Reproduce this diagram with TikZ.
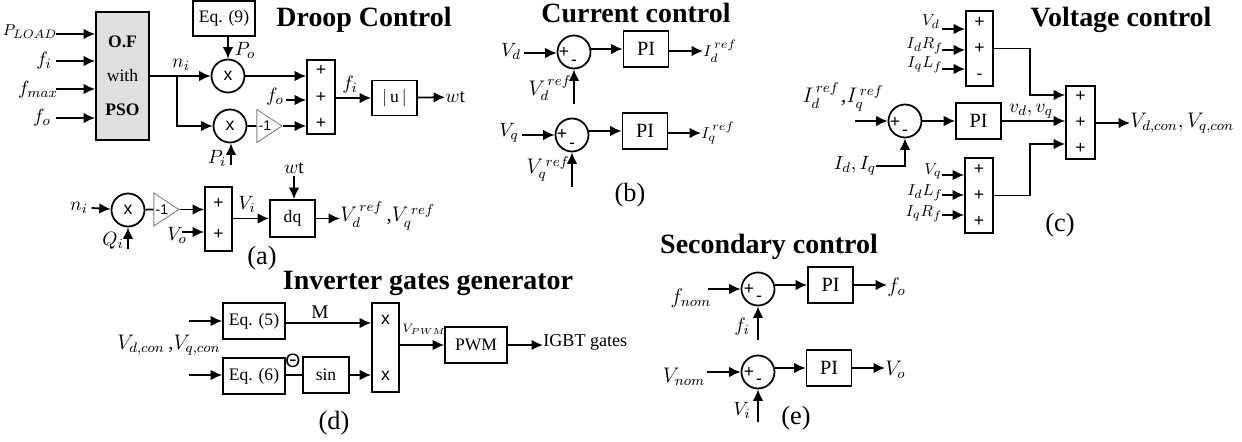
\documentclass[tikz,border=0pt]{standalone}
\usepackage{fontspec}
\setmainfont{Liberation Serif}
\setsansfont{Liberation Sans}
\usetikzlibrary{arrows.meta,shapes.geometric}
\tikzset{
  arr/.style={line width=1pt,-{Latex[length=6.5pt,width=6pt]}},
  wire/.style={line width=1pt},
  blk/.style 2 args={draw,line width=1pt,inner sep=0pt,align=center,minimum width=#1*0.02cm,minimum height=#2*0.02cm},
  piblk/.style={blk={45}{36},font=\fontsize{11.5}{13}\selectfont},
  sumnd/.style={circle,draw,line width=1pt,inner sep=0pt,minimum size=33*0.02cm,font=\sffamily},
  gain/.style={isosceles triangle,isosceles triangle stretches=true,draw=gray,line width=0.5pt,inner sep=0pt,minimum width=33*0.02cm,minimum height=25*0.02cm,anchor=apex,font=\sffamily\fontsize{8}{9}\selectfont},
  lbl/.style={inner sep=0pt,font=\fontsize{11}{13}\selectfont},
  slbl/.style={inner sep=0pt,font=\fontsize{9.5}{11}\selectfont},
  reflbl/.style={inner sep=0pt,font=\fontsize{12}{14}\selectfont},
  sgn/.style={inner sep=0pt,font=\sffamily\fontsize{10}{11}\selectfont},
  ttl/.style={inner sep=0pt,font=\bfseries\fontsize{15.9}{18}\selectfont},
  captxt/.style={inner sep=0pt,font=\fontsize{15}{17}\selectfont},
}
\begin{document}
\begin{tikzpicture}[x=0.02cm,y=-0.02cm]
\useasboundingbox (0,0) rectangle (1242,442);
% droop control
\node[ttl] (ttlA) at (364,20) {Droop Control};
\node[blk={53}{128},fill=gray!25] (of) at (122.5,76) {\textbf{O.F}\\[7.4pt]with\\[7.4pt]\textbf{PSO}};
\node[slbl] (lbPl) at (30,32) {$P_{LOAD}$};
\node[lbl] (lbFi) at (44,61) {$f_i$};
\node[lbl] (lbFm) at (38,90) {$f_{max}$};
\node[lbl] (lbFo) at (42,118) {$f_o$};
\coordinate (inPl) at (56,34);
\coordinate (inFi) at (56,61);
\coordinate (inFm) at (56,89);
\coordinate (inFo) at (56,118);
\draw[arr] (inPl) -- (inPl -| of.west);
\draw[arr] (inFi) -- (inFi -| of.west);
\draw[arr] (inFm) -- (inFm -| of.west);
\draw[arr] (inFo) -- (inFo -| of.west);
\node[blk={62}{35}] (eqN) at (224,18.5) {Eq. (9)};
\node[sumnd] (mulA) at (228,76) {x};
\node[sumnd] (mulB) at (230,126) {x};
\node[gain] (gainA) at (283,126) {-1};
\node[blk={28}{74},font=\sffamily] (sumA) at (321,97) {+\\[3pt]+\\[3pt]+};
\node[blk={45}{35}] (absU) at (394.5,98) {$|\,$u$\,|$};
\coordinate (brN) at (177,76);
\coordinate (inP) at (231,165);
\coordinate (inF) at (286,100);
\draw[arr] (eqN.south -| mulA) -- (mulA);
\draw[arr] (of.east |- mulA) -- (mulA);
\draw[arr] (brN) |- (mulB);
\draw[arr] (inP) -- (inP |- mulB.south);
\draw[wire] (mulB) -- (gainA.west);
\draw[arr] (gainA.apex) -- (gainA.apex -| sumA.west);
\draw[arr] (mulA) -- (mulA -| sumA.west);
\draw[arr] (inF) -- (inF -| sumA.west);
\draw[arr] (sumA.east |- absU) -- (absU);
\node[lbl] (lbPo) at (245,50) {$P_o$};
\node[lbl] (lbNi) at (181,65) {$n_i$};
\node[lbl] (lbPi) at (217,158) {$P_i$};
\node[lbl] (lbFo2) at (275,97) {$f_o$};
\node[lbl] (lbFi2) at (350,85) {$f_i$};
\node[lbl,anchor=west] (lbWt) at (445,97) {$w$t};
\draw[arr] (absU) -- (lbWt);
% lower part of (a)
\node[sumnd] (mulC) at (128,210) {x};
\node[gain] (gainB) at (180,209.5) {-1};
\node[blk={27}{64},font=\sffamily] (sumB) at (218.5,219) {+\\[6pt]+};
\node[blk={45}{37}] (dq) at (292.5,218.5) {dq};
\node[lbl] (lbNi2) at (79,208) {$n_i$};
\node[lbl] (lbQi) at (113,241) {$Q_i$};
\node[lbl] (lbVo) at (177,235) {$V_o$};
\node[lbl] (lbVi) at (247,204) {$V_i$};
\node[lbl] (lbWt2) at (294,168) {$w$t};
\node[reflbl,anchor=west] (lbVref) at (340,216) {$V_d^{\,ref}$\hspace{2pt},$V_q^{\,ref}$};
\coordinate (inQ) at (128,249);
\coordinate (inV) at (182,232);
\draw[arr] (lbNi2.east) ++(2pt,0) -- (mulC);
\draw[arr] (inQ) -- (mulC);
\draw[wire] (mulC) -- (gainB.west);
\draw[arr] (gainB.apex) -- (gainB.apex -| sumB.west);
\draw[arr] (inV) -- (inV -| sumB.west);
\draw[arr] (sumB.east |- dq) -- (dq);
\draw[arr] (lbWt2.south) ++(0,-1pt) -- (dq.north -| lbWt2);
\draw[arr] (dq) -- (lbVref.west |- dq);
\node[captxt] (capA) at (262,258) {(a)};
% current control
\node[ttl] (ttlB) at (636,13) {Current control};
\node[sumnd] (errA) at (574,52) {};
\node[sumnd] (errB) at (572,135) {};
\node[sgn] (errAp) at (564,52) {+};
\node[sgn] (errAm) at (574,63) {-};
\node[sgn] (errBp) at (562,134) {+};
\node[sgn] (errBm) at (572,146) {-};
\node[piblk] (piA) at (646,49) {PI};
\node[piblk] (piB) at (645,131) {PI};
\node[lbl] (lbVd) at (511,51) {$V_d$};
\node[lbl] (lbVq) at (509,133) {$V_q$};
\node[reflbl] (lbVdr) at (550,88) {$V_d^{\,ref}$};
\node[reflbl] (lbVqr) at (548,169) {$V_q^{\,ref}$};
\node[slbl,anchor=west] (lbId) at (703,51) {$I_d^{\,ref}$};
\node[slbl,anchor=west] (lbIq) at (701,133) {$I_q^{\,ref}$};
\coordinate (inVd) at (524,53);
\coordinate (inVq) at (522,135);
\coordinate (inVdr) at (574,104);
\coordinate (inVqr) at (572,187);
\draw[arr] (inVd) -- (inVd -| errA.west);
\draw[arr] (inVq) -- (inVq -| errB.west);
\draw[arr] (inVdr) -- (errA);
\draw[arr] (inVqr) -- (errB);
\draw[arr] (errA.east |- piA) -- (piA);
\draw[arr] (errB.east |- piB) -- (piB);
\draw[arr] (piA.east |- lbId) -- (lbId);
\draw[arr] (piB.east |- lbIq) -- (lbIq);
\node[captxt] (capB) at (630,195) {(b)};
% voltage control
\node[ttl] (ttlC) at (1121,20) {Voltage control};
\node[blk={27}{75},font=\sffamily] (sumC) at (979.5,48.5) {+\\[3pt]+\\[3pt]-};
\node[blk={28}{75},font=\sffamily] (sumD) at (979,195.5) {+\\[3pt]+\\[3pt]+};
\node[blk={29}{73},font=\sffamily] (sumE) at (1080.5,122.5) {+\\[3pt]+\\[3pt]+};
\node[piblk] (piC) at (978.5,121) {PI};
\node[sumnd] (errC) at (905,121) {};
\node[sgn] (errCp) at (895,122) {+};
\node[sgn] (errCm) at (905,133) {-};
\node[slbl] (lbVd2) at (931,22) {$V_d$};
\node[slbl] (lbRf) at (925,46) {$I_dR_f$};
\node[slbl] (lbLf) at (925,65) {$I_qL_f$};
\node[slbl] (lbVq2) at (933,171) {$V_q$};
\node[slbl] (lbLf2) at (925,193) {$I_dL_f$};
\node[slbl] (lbRf2) at (924,214) {$I_qR_f$};
\node[reflbl] (lbIr) at (843,97) {$I_d^{\,ref}$\hspace{1pt},$I_q^{\,ref}$};
\node[lbl] (lbIdq) at (855,166) {$I_d,I_q$};
\node[lbl] (lbvdq) at (1031,111) {$v_d,v_q$};
\node[reflbl,anchor=west] (lbVcon) at (1130,123) {$V_{d,con},V_{q,con}$};
\coordinate (inA) at (942,29);
\coordinate (inB) at (942,50);
\coordinate (inC) at (942,69);
\coordinate (inD) at (942,175);
\coordinate (inE) at (942,195);
\coordinate (inG) at (942,215);
\coordinate (inH) at (855,121);
\coordinate (tapC) at (1030,95);
\coordinate (tapD) at (1030,144);
\draw[arr] (inA) -- (inA -| sumC.west);
\draw[arr] (inB) -- (inB -| sumC.west);
\draw[arr] (inC) -- (inC -| sumC.west);
\draw[arr] (inD) -- (inD -| sumD.west);
\draw[arr] (inE) -- (inE -| sumD.west);
\draw[arr] (inG) -- (inG -| sumD.west);
\draw[arr] (sumC.east) -| (tapC) -- (tapC -| sumE.west);
\draw[arr] (sumD.east) -| (tapD) -- (tapD -| sumE.west);
\draw[arr] (inH) -- (errC);
\draw[arr] (errC) -- (piC);
\draw[arr] (piC) -- (piC -| sumE.west);
\draw[arr] (sumE.east |- lbVcon) -- (lbVcon);
\draw[arr] (lbIdq.east) -| (errC);
\node[captxt] (capC) at (1060,225) {(c)};
% inverter gates
\node[ttl] (ttlD) at (428,283) {Inverter gates generator};
\node[blk={62}{36}] (eqF) at (254,321) {Eq. (5)};
\node[blk={62}{36}] (eqS) at (254,376) {Eq. (6)};
\node[blk={46}{36}] (sinB) at (326,375) {sin};
\node[blk={27}{89},font=\sffamily] (mulD) at (385.5,347.5) {x\\[20pt]x};
\node[blk={62}{36}] (pwm) at (476,345) {PWM};
\node[lbl] (lbM) at (320,312) {M};
\node[lbl,font=\sffamily\fontsize{11}{13}\selectfont] (lbTh) at (293,361) {Θ};
\node[inner sep=0pt,font=\fontsize{7}{9}\selectfont] (lbPwm) at (424,329) {$V_{PWM}$};
\node[lbl,anchor=west,font=\fontsize{10.3}{12}\selectfont] (lbIgbt) at (543,342) {IGBT gates};
\node[reflbl] (lbVc) at (169,345) {$V_{d,con}$\hspace{2pt},$V_{q,con}$};
\coordinate (inJ) at (189,321);
\coordinate (inK) at (189,375);
\coordinate (outF) at (285,323);
\draw[arr] (inJ) -- (inJ -| eqF.west);
\draw[arr] (inK) -- (inK -| eqS.west);
\draw[arr] (outF) -- (outF -| mulD.west);
\draw[wire] (eqS.east |- sinB) -- (sinB);
\draw[arr] (sinB) -- (sinB -| mulD.west);
\draw[arr] (mulD.east |- pwm) -- (pwm);
\draw[arr] (pwm) -- (lbIgbt.west |- pwm);
\node[captxt] (capD) at (334,423) {(d)};
% secondary control
\node[ttl] (ttlE) at (769,247) {Secondary control};
\node[sumnd] (errD) at (758,289) {};
\node[sumnd] (errE) at (758,372) {};
\node[sgn] (errDp) at (749,289) {+};
\node[sgn] (errDm) at (759,299) {-};
\node[sgn] (errEp) at (749,372) {+};
\node[sgn] (errEm) at (759,382) {-};
\node[piblk] (piD) at (830.5,285) {PI};
\node[piblk] (piE) at (829,368) {PI};
\node[reflbl] (lbFn) at (691,298) {$f_{nom}$};
\node[reflbl] (lbVn) at (684,377) {$V_{nom}$};
\node[lbl] (lbFi3) at (742,327) {$f_i$};
\node[lbl] (lbVi3) at (742,410) {$V_i$};
\node[reflbl,anchor=west] (lbFo3) at (887,287) {$f_o$};
\node[reflbl,anchor=west] (lbVo3) at (885,370) {$V_o$};
\coordinate (inM) at (708,289);
\coordinate (inN) at (707,372);
\coordinate (inP2) at (758,340);
\coordinate (inQ2) at (758,422);
\draw[arr] (inM) -- (errD);
\draw[arr] (inN) -- (errE);
\draw[arr] (inP2) -- (errD);
\draw[arr] (inQ2) -- (errE);
\draw[arr] (errD.east |- piD) -- (piD);
\draw[arr] (errE.east |- piE) -- (piE);
\draw[arr] (piD) -- (lbFo3.west |- piD);
\draw[arr] (piE) -- (lbVo3.west |- piE);
\node[captxt] (capE) at (796,418) {(e)};
\end{tikzpicture}
\end{document}
